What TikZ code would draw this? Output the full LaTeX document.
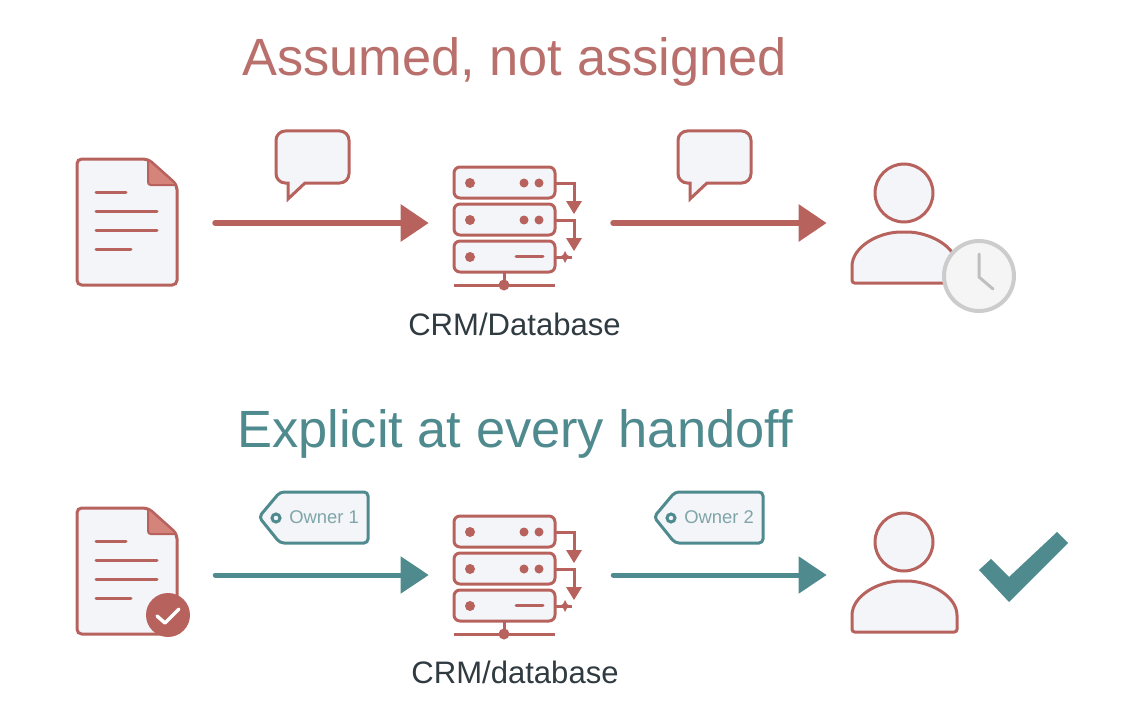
\documentclass[tikz,border=0pt]{standalone}
\usepackage{fontspec}
\setmainfont{Liberation Sans}
\usetikzlibrary{arrows.meta}
\definecolor{rust}{HTML}{B8625E}
\definecolor{rusttext}{HTML}{B9706C}
\definecolor{fold}{HTML}{D4847B}
\definecolor{teal}{HTML}{4F8A8E}
\definecolor{tagtext}{HTML}{7FA5A8}
\definecolor{paper}{HTML}{F3F5F9}
\definecolor{ink}{HTML}{2F3B40}
\tikzset{
  iconbox/.style={draw=none,fill=none,inner sep=0pt,minimum height=20pt},
  outline/.style={draw=rust,line width=2.25pt,fill=paper,rounded corners=3.5pt},
  stroke/.style={draw=rust,line width=2.25pt,line cap=round},
  flowred/.style={draw=rust,line width=4.5pt,line cap=round,-{Triangle[length=21pt,width=27pt]}},
  flowteal/.style={draw=teal,line width=3.75pt,line cap=round,-{Triangle[length=21pt,width=27pt]}},
  title/.style={anchor=base,font=\fontsize{39.3}{39.3}\selectfont},
  caption/.style={anchor=base,text=ink,font=\fontsize{23.3}{23.3}\selectfont},
  tagtxt/.style={anchor=west,inner sep=0pt,text=tagtext,font=\fontsize{13.8}{13.8}\selectfont},
  pics/docicon/.style={code={
    \path[outline] (0,0) -- (71,0) -- (100,26) -- (100,126) -- (0,126) -- cycle;
    \path[fill=fold,draw=rust,line width=1.5pt,rounded corners=2pt] (71,0) -- (71,26) -- (100,26) -- cycle;
    \foreach \y/\x in {33/49,52/80,71/80,90/54}
      \draw[stroke] (19,\y) -- (\x,\y);
  }},
  pics/rackicon/.style={code={
    \foreach \y in {0,37,74}
      \path[outline,rounded corners=4.5pt] (0,\y) rectangle (101,\y+31);
    \foreach \y in {0,37,74} \fill[rust] (16,\y+16) circle (5);
    \foreach \y in {0,37} {
      \fill[rust] (70,\y+16) circle (4.5);
      \fill[rust] (85,\y+16) circle (4.5);
      \draw[stroke,line cap=butt] (101,\y+16) -- (120,\y+16) -- (120,\y+36);
      \fill[rust] (112,\y+34) -- (128,\y+34) -- (120,\y+47) -- cycle;
    }
    \draw[stroke] (62,89) -- (89,89);
    \draw[stroke,line cap=butt] (101,90) -- (118,90);
    \fill[rust] (111,84) -- (113,88) -- (117,90) -- (113,92) -- (111,96) -- (109,92) -- (105,90) -- (109,88) -- cycle;
    \draw[stroke,line cap=butt] (50,105) -- (50,118);
    \draw[stroke,line cap=butt] (0,118) -- (101,118);
    \fill[rust] (50,118) circle (5.5);
  }},
  pics/personicon/.style={code={
    \path[outline,rounded corners=0pt] (0,0) circle (29);
    \path[outline,rounded corners=2pt] (-52,90) -- (-52,76)
      .. controls (-52,54) and (-26,39) .. (0,39)
      .. controls (26,39) and (53,54) .. (53,76) -- (53,90) -- cycle;
  }},
  pics/bubbleicon/.style={code={
    \path[draw=rust,line width=2.25pt,fill=paper,line join=miter]
      (36,0) [rounded corners=7pt] -- (73,0) -- (73,52) [rounded corners=0pt] -- (29,52)
      -- (12,68) -- (12,52) [rounded corners=7pt] -- (0,52) -- (0,0) -- cycle;
  }},
  pics/tagicon/.style={code={
    \path[draw=teal,line width=2.25pt,fill=paper,rounded corners=3pt]
      (0,0) -- (21,-25) -- (109,-25) -- (109,26) -- (21,26) -- cycle;
    \draw[teal,line width=2.25pt] (17,1) circle (4);
  }},
}
\begin{document}
\begin{tikzpicture}[x=0.75pt,y=-0.75pt]
\useasboundingbox (0,0) rectangle (1129,717);

% top row
\node[title,text=rusttext] (titlea) at (514.5,76) {Assumed, not assigned};
\node[iconbox,minimum width=75pt] (doca) at (127,223) {};
\node[iconbox,minimum width=96pt] (racka) at (519,223) {};
\node[iconbox,minimum width=79pt] (persona) at (904,223) {};
\pic at (77,159) {docicon};
\pic at (454,167) {rackicon};
\pic at (276,131) {bubbleicon};
\pic at (678,131) {bubbleicon};
\pic at (904,193) {personicon};
\node[caption] (captiona) at (514.5,335) {CRM/Database};
\draw[flowred,shorten <=28.5pt,shorten >=19.5pt] (doca) -- (racka);
\draw[flowred,shorten <=22.5pt,shorten >=18.3pt] (racka) -- (persona);
\fill[fill=black!4,draw=black!20,line width=3pt] (979,276) circle (35);
\draw[draw=black!25,line width=2.25pt,line cap=round,line join=round] (979,254) -- (979,277) -- (993,289);

% bottom row
\node[title,text=teal] (titleb) at (515,447) {Explicit at every handoff};
\node[iconbox,minimum width=75pt] (docb) at (127,575) {};
\node[iconbox,minimum width=96pt] (rackb) at (519,575) {};
\node[iconbox,minimum width=79pt] (personb) at (904,575) {};
\pic at (77,508) {docicon};
\pic at (454,516) {rackicon};
\pic at (259,517) {tagicon};
\pic at (654,517) {tagicon};
\pic at (904,542) {personicon};
\node[caption] (captionb) at (515,683.5) {CRM/database};
\node[tagtxt] (ownera) at (289,517) {Owner 1};
\node[tagtxt] (ownerb) at (684,517) {Owner 2};
\draw[flowteal,shorten <=28.5pt,shorten >=19.5pt] (docb) -- (rackb);
\draw[flowteal,shorten <=22.5pt,shorten >=18.3pt] (rackb) -- (personb);
\fill[rust] (168,615) circle (22);
\draw[white,line width=2.6pt,line cap=round,line join=round] (157,616) -- (165,623) -- (179,609);
\fill[teal] (979,570) -- (1009,602) -- (1068,543) -- (1057,532) -- (1009,577) -- (991,559) -- cycle;
\end{tikzpicture}
\end{document}
